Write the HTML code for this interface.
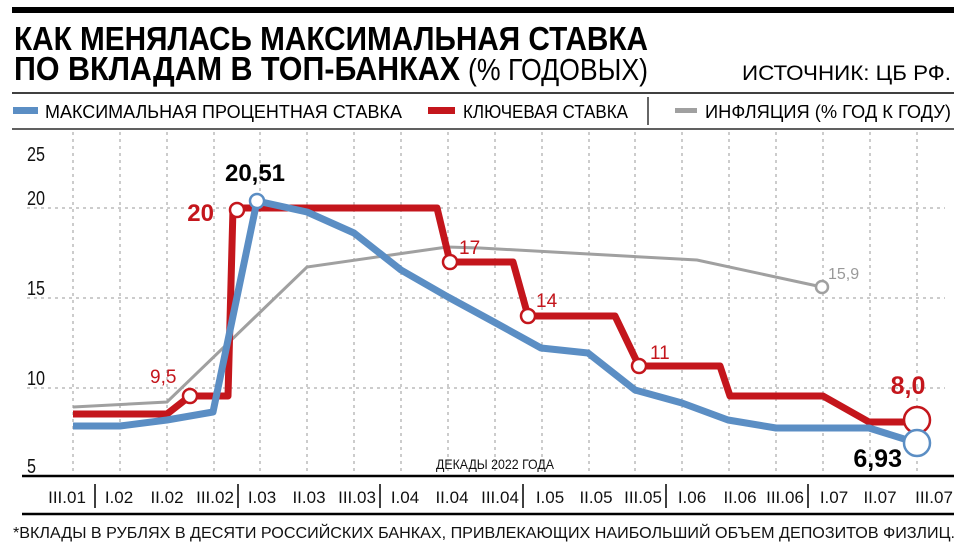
<!DOCTYPE html>
<html><head><meta charset="utf-8"><style>
html,body{margin:0;padding:0;background:#fff;}
svg{display:block;font-family:"Liberation Sans",sans-serif;}
</style></head><body>
<svg width="968" height="544" viewBox="0 0 968 544" xmlns="http://www.w3.org/2000/svg">
<rect x="0" y="0" width="968" height="544" fill="#fff"/>
<rect x="12" y="7" width="942" height="6" fill="#000"/>
<text x="14" y="50" font-size="33" font-weight="bold" textLength="634" lengthAdjust="spacingAndGlyphs">КАК МЕНЯЛАСЬ МАКСИМАЛЬНАЯ СТАВКА</text>
<text x="14" y="80" font-size="33" font-weight="bold" textLength="446" lengthAdjust="spacingAndGlyphs">ПО ВКЛАДАМ В ТОП-БАНКАХ</text>
<text x="468" y="80" font-size="31" textLength="180" lengthAdjust="spacingAndGlyphs">(% ГОДОВЫХ)</text>
<text x="742" y="80" font-size="21" textLength="209" lengthAdjust="spacingAndGlyphs">ИСТОЧНИК: ЦБ РФ.</text>
<line x1="12" y1="93" x2="954" y2="93" stroke="#000" stroke-width="1.5"/>
<rect x="13" y="107" width="25" height="7" fill="#5b8ec4"/>
<text x="45" y="118" font-size="18" textLength="357" lengthAdjust="spacingAndGlyphs">МАКСИМАЛЬНАЯ ПРОЦЕНТНАЯ СТАВКА</text>
<rect x="428" y="107" width="27" height="7" fill="#c4161c"/>
<text x="463" y="118" font-size="18" textLength="165" lengthAdjust="spacingAndGlyphs">КЛЮЧЕВАЯ СТАВКА</text>
<line x1="648" y1="97" x2="648" y2="125" stroke="#000" stroke-width="1.2"/>
<rect x="675" y="108" width="22" height="5" fill="#a0a0a0"/>
<text x="705" y="118" font-size="18" textLength="246" lengthAdjust="spacingAndGlyphs">ИНФЛЯЦИЯ (% ГОД К ГОДУ)</text>
<line x1="12" y1="129" x2="954" y2="129" stroke="#000" stroke-width="1.2"/>
<g stroke="#999" stroke-width="1" stroke-dasharray="3,4">
<line x1="27" y1="208" x2="945" y2="208"/><line x1="27" y1="298" x2="945" y2="298"/><line x1="27" y1="388" x2="945" y2="388"/>
<line x1="73" y1="132" x2="73" y2="474"/><line x1="120" y1="132" x2="120" y2="474"/><line x1="167" y1="132" x2="167" y2="474"/><line x1="214" y1="132" x2="214" y2="474"/><line x1="260" y1="132" x2="260" y2="474"/><line x1="307" y1="132" x2="307" y2="474"/><line x1="354" y1="132" x2="354" y2="474"/><line x1="401" y1="132" x2="401" y2="474"/><line x1="448" y1="132" x2="448" y2="474"/><line x1="495" y1="132" x2="495" y2="474"/><line x1="542" y1="132" x2="542" y2="474"/><line x1="589" y1="132" x2="589" y2="474"/><line x1="635" y1="132" x2="635" y2="474"/><line x1="682" y1="132" x2="682" y2="474"/><line x1="729" y1="132" x2="729" y2="474"/><line x1="776" y1="132" x2="776" y2="474"/><line x1="823" y1="132" x2="823" y2="474"/><line x1="870" y1="132" x2="870" y2="474"/><line x1="917" y1="132" x2="917" y2="474"/>
</g>
<g font-size="20" fill="#111">
<text x="27" y="161" textLength="18" lengthAdjust="spacingAndGlyphs">25</text><text x="27" y="205" textLength="18" lengthAdjust="spacingAndGlyphs">20</text><text x="27" y="295" textLength="18" lengthAdjust="spacingAndGlyphs">15</text><text x="27" y="385" textLength="18" lengthAdjust="spacingAndGlyphs">10</text><text x="27" y="473" textLength="9" lengthAdjust="spacingAndGlyphs">5</text>
</g>
<text x="495" y="469" font-size="14" text-anchor="middle" fill="#111" textLength="118" lengthAdjust="spacingAndGlyphs">ДЕКАДЫ 2022 ГОДА</text>
<polyline fill="none" stroke="#a0a0a0" stroke-width="3" points="73,407 167,402 307,267 447,247 480,248 697,260 822,287"/>
<polyline fill="none" stroke="#c4161c" stroke-width="7" stroke-linejoin="round" points="73,414 167,414 190,396 228,396 233,208 437,208 450,262 513,262 528,316 615,316 639,366 720,366 730,396 823,396 869,422 917,422"/>
<polyline fill="none" stroke="#5b8ec4" stroke-width="7" stroke-linejoin="round" points="73,426 120,426 167,420 213,412 257,201 307,212 354,233 401,270 448,297 494,322 541,348 588,353 635,390 682,403 728,420 776,428 822,428 869,428 917,443"/>
<g fill="#fff" stroke-width="2.5">
<circle cx="190" cy="396" r="7" stroke="#c4161c"/>
<circle cx="237" cy="210" r="7" stroke="#c4161c"/>
<circle cx="450" cy="262" r="7" stroke="#c4161c"/>
<circle cx="528" cy="316" r="7" stroke="#c4161c"/>
<circle cx="639" cy="366" r="7" stroke="#c4161c"/>
<circle cx="917" cy="420" r="13" stroke="#c4161c"/>
<circle cx="257" cy="201" r="7" stroke="#5b8ec4"/>
<circle cx="917" cy="443" r="13" stroke="#5b8ec4"/>
<circle cx="822" cy="287" r="6" stroke="#a0a0a0"/>
</g>
<text x="255" y="181" font-size="24" font-weight="bold" text-anchor="middle">20,51</text>
<text x="214" y="221" font-size="24" font-weight="bold" fill="#c4161c" text-anchor="end">20</text>
<text x="150" y="383" font-size="19" fill="#c4161c">9,5</text>
<text x="459" y="254" font-size="19" fill="#c4161c">17</text>
<text x="536" y="307" font-size="19" fill="#c4161c">14</text>
<text x="650" y="359" font-size="19" fill="#c4161c">11</text>
<text x="828" y="279" font-size="16" fill="#999">15,9</text>
<text x="908" y="394" font-size="25" font-weight="bold" fill="#c4161c" text-anchor="middle">8,0</text>
<text x="902" y="467" font-size="25" font-weight="bold" text-anchor="end">6,93</text>
<line x1="22" y1="476" x2="954" y2="476" stroke="#000" stroke-width="2.5"/>
<g stroke="#000" stroke-width="1.5">
<line x1="95" y1="484" x2="95" y2="508"/><line x1="238" y1="484" x2="238" y2="508"/><line x1="380" y1="484" x2="380" y2="508"/><line x1="523" y1="484" x2="523" y2="508"/><line x1="666" y1="484" x2="666" y2="508"/><line x1="808" y1="484" x2="808" y2="508"/>
</g>
<g font-size="17" text-anchor="middle" fill="#111">
<text x="67" y="503">III.01</text><text x="119" y="503">I.02</text><text x="167" y="503">II.02</text><text x="215" y="503">III.02</text><text x="262" y="503">I.03</text><text x="309" y="503">II.03</text><text x="357" y="503">III.03</text><text x="405" y="503">I.04</text><text x="452" y="503">II.04</text><text x="500" y="503">III.04</text><text x="550" y="503">I.05</text><text x="596" y="503">II.05</text><text x="643" y="503">III.05</text><text x="692" y="503">I.06</text><text x="740" y="503">II.06</text><text x="785" y="503">III.06</text><text x="834" y="503">I.07</text><text x="880" y="503">II.07</text><text x="934" y="503">III.07</text>
</g>
<line x1="22" y1="514" x2="954" y2="514" stroke="#000" stroke-width="2.5"/>
<text x="13" y="538" font-size="16" textLength="942" lengthAdjust="spacingAndGlyphs" fill="#111">*ВКЛАДЫ В РУБЛЯХ В ДЕСЯТИ РОССИЙСКИХ БАНКАХ, ПРИВЛЕКАЮЩИХ НАИБОЛЬШИЙ ОБЪЕМ ДЕПОЗИТОВ ФИЗЛИЦ.</text>
</svg>
</body></html>
